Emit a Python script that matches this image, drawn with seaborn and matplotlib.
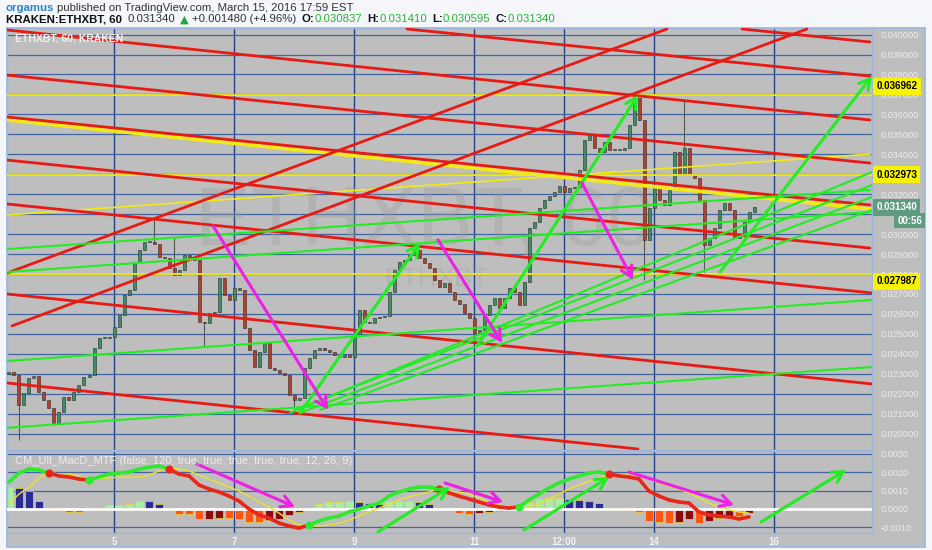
import numpy as np
import matplotlib
matplotlib.use("Agg")
import matplotlib.pyplot as plt
import matplotlib.transforms as mtransforms
import seaborn as sns

# ETHXBT 2-hour candles, time = day of March 2016
candle_start = 3.25
candle_step = 1 / 12
first_open = 0.02300
closes = [
    0.02309, 0.02294, 0.02144, 0.02204, 0.02279, 0.02289, 0.02209, 0.02169, 0.02129, 0.02054,
    0.02109, 0.02184, 0.02169, 0.02209, 0.02244, 0.02284, 0.02294, 0.02430, 0.02480, 0.02480,
    0.02485, 0.02535, 0.02595, 0.02695, 0.02720, 0.02860, 0.02920, 0.02961, 0.02961, 0.02951,
    0.02885, 0.02880, 0.02830, 0.02795, 0.02820, 0.02895, 0.02885, 0.02870, 0.02560, 0.02555,
    0.02605, 0.02610, 0.02780, 0.02695, 0.02670, 0.02730, 0.02720, 0.02530, 0.02420, 0.02334,
    0.02409, 0.02455, 0.02329, 0.02319, 0.02304, 0.02294, 0.02194, 0.02169, 0.02179, 0.02329,
    0.02379, 0.02420, 0.02430, 0.02420, 0.02409, 0.02394, 0.02384, 0.02394, 0.02384, 0.02495,
    0.02620, 0.02560, 0.02555, 0.02580, 0.02585, 0.02590, 0.02710, 0.02820, 0.02860, 0.02870,
    0.02895, 0.02920, 0.02880, 0.02855, 0.02830, 0.02770, 0.02735, 0.02755, 0.02710, 0.02670,
    0.02650, 0.02605, 0.02580, 0.02505, 0.02520, 0.02595, 0.02645, 0.02680, 0.02630, 0.02680,
    0.02730, 0.02710, 0.02645, 0.02760, 0.03031, 0.03061, 0.03131, 0.03171, 0.03191, 0.03211,
    0.03241, 0.03211, 0.03231, 0.03236, 0.03321, 0.03472, 0.03497, 0.03432, 0.03412, 0.03462,
    0.03422, 0.03422, 0.03422, 0.03432, 0.03547, 0.03682, 0.03572, 0.02971, 0.03131, 0.03236,
    0.03171, 0.03146, 0.03236, 0.03412, 0.03296, 0.03432, 0.03296, 0.03281, 0.03171, 0.02946,
    0.02981, 0.03031, 0.03121, 0.03156, 0.03121, 0.02981, 0.02991, 0.03061, 0.03111, 0.03134,
]
wick_hi_idx = [29, 33, 125, 135]
wick_hi = [0.0307, 0.0298, 0.0371, 0.0367]
wick_lo_idx = [2, 39, 57, 93, 127, 139]
wick_lo = [0.0197, 0.0244, 0.0213, 0.0245, 0.0277, 0.0281]

# CM_Ult_MacD_MTF, 120 min bars, read every 4 hours
macd_start = 3.25
macd_step = 1 / 6
macd = [
    0.00146, 0.00195, 0.00216, 0.00211, 0.00195, 0.00179, 0.00173, 0.00162, 0.00157, 0.00173,
    0.00189, 0.00195, 0.00200, 0.00216, 0.00227, 0.00233, 0.00216, 0.00189, 0.00179, 0.00130,
    0.00108, 0.00092, 0.00070, 0.00043, 0.00000, -0.00032, -0.00049, -0.00076, -0.00092, -0.00103,
    -0.00087, -0.00065, -0.00049, -0.00038, -0.00016, 0.00000, 0.00016, 0.00032, 0.00070, 0.00092,
    0.00108, 0.00119, 0.00119, 0.00108, 0.00087, 0.00070, 0.00054, 0.00038, 0.00022, 0.00011,
    0.00005, 0.00011, 0.00049, 0.00081, 0.00114, 0.00141, 0.00162, 0.00179, 0.00195, 0.00200,
    0.00189, 0.00179, 0.00173, 0.00162, 0.00097, 0.00070, 0.00049, 0.00038, 0.00032, -0.00016,
    -0.00032, -0.00038, -0.00043, -0.00054, -0.00043,
]
signal = [
    0.00027, 0.00081, 0.00119, 0.00168, 0.00200, 0.00189, 0.00189, 0.00179, 0.00155, 0.00165,
    0.00168, 0.00173, 0.00173, 0.00173, 0.00184, 0.00206, 0.00222, 0.00216, 0.00206, 0.00184,
    0.00162, 0.00141, 0.00119, 0.00097, 0.00070, 0.00038, 0.00011, -0.00022, -0.00060, -0.00087,
    -0.00092, -0.00092, -0.00087, -0.00076, -0.00060, -0.00038, -0.00016, 0.00005, 0.00027, 0.00049,
    0.00065, 0.00081, 0.00092, 0.00110, 0.00097, 0.00092, 0.00081, 0.00060, 0.00038, 0.00022,
    0.00011, 0.00005, 0.00011, 0.00027, 0.00054, 0.00081, 0.00108, 0.00130, 0.00151, 0.00168,
    0.00192, 0.00184, 0.00184, 0.00179, 0.00162, 0.00141, 0.00124, 0.00108, 0.00087, 0.00060,
    0.00032, 0.00011, -0.00005, -0.00016, -0.00022,
]

# user drawings: ((day, price), (day, price))
red_lines = [
    ((15.467, 0.04028), (17.60, 0.03963)),
    ((9.883, 0.04028), (17.60, 0.03792)),
    ((3.217, 0.04023), (17.60, 0.03572)),
    ((3.217, 0.03797), (17.60, 0.03356)),
    ((3.217, 0.03587), (17.60, 0.03146)),
    ((3.217, 0.03371), (17.60, 0.02930)),
    ((3.217, 0.03151), (17.633, 0.02705)),
    ((3.217, 0.02700), (17.633, 0.02249)),
    ((3.217, 0.02254), (13.733, 0.01923)),
    ((3.217, 0.02805), (14.217, 0.04028)),
    ((3.30, 0.02540), (16.55, 0.04028)),
]
yellow_sloped = [
    ((3.217, 0.03096), (17.60, 0.03401), 1.2),
    ((3.217, 0.03572), (17.60, 0.03126), 2.6),
]
levels = [0.036962, 0.032973, 0.027987]
green_lines = [
    ((3.217, 0.02925), (17.60, 0.03221)),
    ((3.217, 0.02810), (17.60, 0.03111)),
    ((3.217, 0.02364), (17.633, 0.02670)),
    ((3.217, 0.02029), (17.633, 0.02334)),
    ((7.933, 0.02104), (17.633, 0.03311)),
    ((8.017, 0.02119), (17.633, 0.03246)),
    ((8.10, 0.02104), (17.633, 0.03186)),
    ((8.433, 0.02119), (17.633, 0.03121)),
]
green_arrows = [
    ((8.10, 0.02104), (10.10, 0.02956)),
    ((11.067, 0.02445), (13.733, 0.03697)),
    ((15.10, 0.02810), (17.633, 0.03792)),
]
pink_arrows = [
    ((6.65, 0.03041), (8.567, 0.02119)),
    ((10.40, 0.02971), (11.467, 0.02455)),
    ((12.80, 0.03256), (13.65, 0.02770)),
]
macd_green_arrows = [
    ((9.40, -0.00124), (10.60, 0.00119)),
    ((11.833, -0.00114), (13.25, 0.00173)),
    ((15.783, -0.00070), (17.20, 0.00211)),
]
macd_pink_arrows = [
    ((6.383, 0.00243), (8.017, 0.00011)),
    ((10.517, 0.00141), (11.483, 0.00038)),
    ((13.583, 0.00200), (15.333, 0.00022)),
]

price_ticks = [round(0.020 + 0.001 * k, 3) for k in range(21)]
hidden_ticks = [0.031, 0.033]   # covered by the price boxes on the chart
macd_ticks = [-0.001, 0.0, 0.001, 0.002, 0.003]
x_ticks = [5, 7, 9, 11, 12.5, 14, 16]
x_labels = ["5", "7", "9", "11", "12:00", "14", "16"]
last_price = 0.031340
countdown = "00:56"

BG = "#bebebe"
EDGE = "#9db8e0"
RED = "#e81a14"
YEL = "#f2ea18"
GRN = "#22ec22"
PINK = "#ee1fe6"

sns.set_theme(style="dark", rc={"axes.facecolor": BG})
plt.rcParams["font.family"] = ["Liberation Sans", "DejaVu Sans"]

W, H = 932, 550
fig = plt.figure(figsize=(W / 100, H / 100), dpi=100, facecolor="#f4f6fa")


def rect(x0, y0, x1, y1):
    return [x0 / W, 1 - y1 / H, (x1 - x0) / W, (y1 - y0) / H]


bg = fig.add_axes(rect(7, 28, 925, 547))
bg.set_facecolor(BG)
bg.set_xticks([])
bg.set_yticks([])
for s in bg.spines.values():
    s.set_color(EDGE)

ax = fig.add_axes(rect(7, 28, 872, 450))
axm = fig.add_axes(rect(7, 451, 872, 533))
xlim = (3.2167, 17.633)

for a in (ax, axm):
    a.set_facecolor(BG)
    a.set_xlim(*xlim)
    a.set_axisbelow(True)
    a.yaxis.tick_right()
    a.set_xticks(x_ticks)
    a.yaxis.grid(True, color="#4264a0", lw=0.9)
    a.xaxis.grid(True, color="#21428a", lw=1.0)
    a.tick_params(axis="both", length=0)
    for s in a.spines.values():
        s.set_color(EDGE)
        s.set_linewidth(1)

# main price panel
ax.set_ylim(0.01918, 0.04033)
ax.set_yticks(price_ticks)
ax.set_yticklabels(["" if v in hidden_ticks else f"{v:.6f}" for v in price_ticks])
ax.tick_params(axis="y", labelcolor="#ededed", labelsize=6.6, pad=6)
ax.set_xticklabels([])

ax.text(0.483, 0.538, "ETHXBT, 60", transform=ax.transAxes, ha="center", va="center",
        fontsize=60, color="#9c9c9c", alpha=0.35, zorder=0.6)
ax.text(0.497, 0.405, "ETHXBT", transform=ax.transAxes, ha="center", va="center",
        fontsize=19, color="#9c9c9c", alpha=0.35, zorder=0.6)

t = candle_start + np.arange(len(closes)) * candle_step
c = np.array(closes)
o = np.array([first_open] + closes[:-1])
hi = np.maximum(o, c)
lo = np.minimum(o, c)
hi[wick_hi_idx] = wick_hi
lo[wick_lo_idx] = wick_lo
up = c >= o
body_lo = np.minimum(o, c)
body_h = np.maximum(np.abs(c - o), 0.00004)
ax.vlines(t, lo, hi, color="#505a55", lw=0.8, zorder=3)
ax.bar(t, body_h, bottom=body_lo, width=0.05, color=np.where(up, "#3d8e63", "#b63f2b"),
       edgecolor="#2e2e2e", linewidth=0.4, zorder=4)

for v in levels:
    ax.axhline(v, color=YEL, lw=1.3, zorder=5)
for (x0, y0), (x1, y1), w in yellow_sloped:
    ax.plot([x0, x1], [y0, y1], color=YEL, lw=w, zorder=5)
for (x0, y0), (x1, y1) in red_lines:
    ax.plot([x0, x1], [y0, y1], color=RED, lw=2.0, zorder=6)
for (x0, y0), (x1, y1) in green_lines:
    ax.plot([x0, x1], [y0, y1], color=GRN, lw=1.5, zorder=6)


def arrow(a, start, end, color):
    a.annotate("", xy=end, xytext=start, annotation_clip=False, zorder=7,
               arrowprops=dict(arrowstyle="->,head_length=0.55,head_width=0.3", color=color,
                               lw=2.2, shrinkA=0, shrinkB=0, mutation_scale=14))


for s, e in green_arrows:
    arrow(ax, s, e, GRN)
for s, e in pink_arrows:
    arrow(ax, s, e, PINK)

ax.text(0.0093, 0.975, "ETHXBT, 60, KRAKEN", transform=ax.transAxes, ha="left", va="center",
        fontsize=7.5, fontweight="bold", color="#f0f0f0", zorder=8)

# price axis labels
trans = mtransforms.blended_transform_factory(ax.transAxes, ax.transData)
for v, dy in zip(levels, [6.5, 0, -5]):
    ax.annotate(f"{v:.6f}", xy=(1, v), xycoords=trans, xytext=(3, dy), textcoords="offset points",
                ha="left", va="center", fontsize=7, fontweight="bold", color="black",
                bbox=dict(boxstyle="square,pad=0.35", fc="#f7f200", ec="none"),
                annotation_clip=False, zorder=10)
ax.annotate(f"{last_price:.6f}", xy=(1, last_price), xycoords=trans, xytext=(3, 0),
            textcoords="offset points", ha="left", va="center", fontsize=7, fontweight="bold",
            color="white", bbox=dict(boxstyle="square,pad=0.35", fc="#5f9b80", ec="none"),
            annotation_clip=False, zorder=10)
ax.annotate(countdown, xy=(1, last_price), xycoords=trans, xytext=(36, -9.5),
            textcoords="offset points", ha="right", va="center", fontsize=7, fontweight="bold",
            color="white", bbox=dict(boxstyle="square,pad=0.3", fc="#5f9b80", ec="none"),
            annotation_clip=False, zorder=11)

# MACD panel
axm.set_ylim(-0.00130, 0.00314)
axm.set_yticks(macd_ticks)
axm.set_yticklabels([f"{v:.4f}" for v in macd_ticks])
axm.tick_params(axis="y", labelcolor="#ededed", labelsize=6.6, pad=6)
axm.set_xticklabels(x_labels)
axm.tick_params(axis="x", labelcolor="#f2f2f2", labelsize=7, pad=3)
for lab in axm.get_xticklabels():
    lab.set_fontweight("bold")

tm = macd_start + np.arange(len(macd)) * macd_step
m = np.array(macd)
sg = np.array(signal)
hist = m - sg
prev = np.concatenate([[hist[0]], hist[:-1]])
hcol = np.where(hist > 0, np.where(hist >= prev, "#a8f0a0", "#2b2b95"),
                np.where(hist < prev, "#ff5512", "#8a0c0c"))
axm.bar(tm, hist, width=0.13, color=hcol, edgecolor="#e8d830", linewidth=0.5, zorder=2)
axm.axhline(0, color="white", lw=2, zorder=3)
sns.lineplot(x=tm, y=sg, ax=axm, color="#ece22a", lw=1.0, zorder=4)

above = m >= sg
for j in range(len(m) - 1):
    axm.plot(tm[j:j + 2], m[j:j + 2], color="#2eea2e" if above[j] else "#e8261a", lw=2.6,
             solid_capstyle="round", zorder=5)
for j in range(1, len(m)):
    if above[j] != above[j - 1]:
        axm.scatter([tm[j]], [m[j]], s=34, color="#2eea2e" if above[j] else "#e8261a",
                    zorder=6, linewidths=0)

for s, e in macd_green_arrows:
    arrow(axm, s, e, GRN)
for s, e in macd_pink_arrows:
    arrow(axm, s, e, PINK)

axm.text(0.0093, 0.878, "CM_Ult_MacD_MTF (false, 120, true, true, true, true, true, 12, 26, 9)",
         transform=axm.transAxes, ha="left", va="center", fontsize=8, color="#ececec", zorder=8)

# header
renderer = fig.canvas.get_renderer()


def header(y_top, parts, x=6):
    for text, color, weight, gap in parts:
        fam = ["DejaVu Sans"] if text == "\u25b2" else ["Liberation Sans", "DejaVu Sans"]
        tx = fig.text(x, H - y_top, text, transform=mtransforms.IdentityTransform(),
                      fontsize=8.2, color=color, fontweight=weight, family=fam,
                      ha="left", va="center")
        x = tx.get_window_extent(renderer).x1 + gap


header(8, [("orgamus", "#2a86c8", "bold", 3),
           ("published on TradingView.com, March 15, 2016 17:59 EST", "#333333", "normal", 0)])
header(19.5, [("KRAKEN:ETHXBT, 60", "#111111", "bold", 6),
              ("0.031340", "#333333", "normal", 4),
              ("\u25b2", "#22a83a", "normal", 3),
              ("+0.001480 (+4.96%)", "#333333", "normal", 6),
              ("O:", "#111111", "bold", 0), ("0.030837", "#2fae3c", "normal", 5),
              ("H:", "#111111", "bold", 0), ("0.031410", "#2fae3c", "normal", 5),
              ("L:", "#111111", "bold", 0), ("0.030595", "#2fae3c", "normal", 5),
              ("C:", "#111111", "bold", 0), ("0.031340", "#2fae3c", "normal", 0)])

fig.savefig("out.png", dpi=100, facecolor=fig.get_facecolor())
